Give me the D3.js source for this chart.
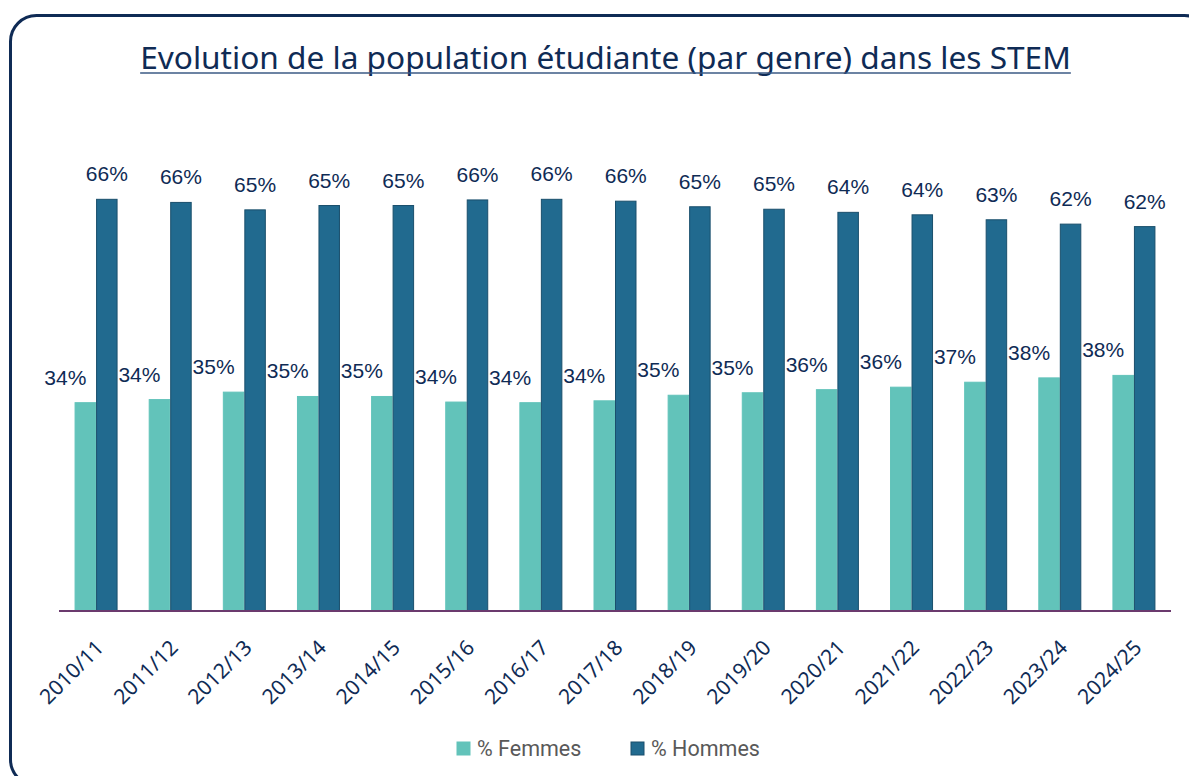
<!DOCTYPE html>
<html>
<head>
<meta charset="utf-8">
<script src="https://cdn.jsdelivr.net/npm/d3@7"></script>
<style>
  body { margin: 0; background: #fff; }
  svg { display: block; }
</style>
</head>
<body>
<div id="chart"></div>
<script>
// data
let years = ['2010/11','2011/12','2012/13','2013/14','2014/15','2015/16','2016/17','2017/18',
             '2018/19','2019/20','2020/21','2021/22','2022/23','2023/24','2024/25']
let femmes = [33.6, 34.1, 35.3, 34.6, 34.6, 33.7, 33.6, 33.9, 34.8, 35.2, 35.7, 36.1, 36.9, 37.6, 38.0]
let hommes = [66.4, 65.9, 64.7, 65.4, 65.4, 66.3, 66.4, 66.1, 65.2, 64.8, 64.3, 63.9, 63.1, 62.4, 62.0]
let seriesNames = ['% Femmes', '% Hommes']

let width = 1189,
    height = 776,
    navy = '#0f2b55',
    teal = '#62c3ba',
    blue = '#216a8f'

let svg = d3.select('#chart').append('svg')
    .attr('width', width)
    .attr('height', height)

// frame with rounded corners (runs off the right / bottom edge)
svg.append('rect')
    .attr('x', 10.5).attr('y', 15.5)
    .attr('width', 1200).attr('height', 770)
    .attr('rx', 26)
    .attr('fill', 'none')
    .attr('stroke', navy)
    .attr('stroke-width', 3)

// title, underlined
let title = svg.append('text')
    .attr('x', 605.5).attr('y', 69)
    .attr('text-anchor', 'middle')
    .style('font-family', 'Noto Sans, sans-serif')
    .style('font-size', '30px')
    .attr('fill', navy)
    .text('Evolution de la population étudiante (par genre) dans les STEM')
// fit to the width seen in the reference
let tl = title.node().getComputedTextLength()
title.style('font-size', (30 * 931 / tl) + 'px')
tl = title.node().getComputedTextLength()
svg.append('line')
    .attr('x1', 605.5 - tl / 2).attr('x2', 605.5 + tl / 2)
    .attr('y1', 73).attr('y2', 73)
    .attr('stroke', '#3b5a84')
    .attr('stroke-width', 1.5)

// scales
let x = d3.scaleBand()
    .domain(years)
    .range([59, 1171])
    .paddingInner(0.42)
    .paddingOuter(0.21)

let xs = d3.scaleBand()
    .domain(seriesNames)
    .range([0, x.bandwidth()])

let y = d3.scaleLinear()
    .domain([0, 70])
    .range([611, 177])

let rows = years.map(function(yr, i){
    return { year: yr, values: [
        { key: seriesNames[0], v: femmes[i] },
        { key: seriesNames[1], v: hommes[i] }
    ]}
})

let color = d3.scaleOrdinal().domain(seriesNames).range([teal, blue])
let edge = d3.scaleOrdinal().domain(seriesNames).range([teal, '#1a4f6c'])

let groups = svg.selectAll('.grp')
    .data(rows)
    .enter().append('g')
    .attr('class', 'grp')
    .attr('transform', function(d){ return 'translate(' + x(d.year) + ',0)' })

groups.selectAll('rect')
    .data(function(d){ return d.values })
    .enter().append('rect')
    .attr('x', function(d){ return xs(d.key) + 0.5 })
    .attr('width', xs.bandwidth() - 1)
    .attr('y', function(d){ return y(d.v) })
    .attr('height', function(d){ return y(0) - y(d.v) })
    .attr('fill', function(d){ return color(d.key) })
    .attr('stroke', function(d){ return edge(d.key) })
    .attr('stroke-width', 1)

// value labels (femmes label sits left of its bar)
groups.selectAll('.lbl')
    .data(function(d){ return d.values })
    .enter().append('text')
    .attr('class', 'lbl')
    .attr('x', function(d, i){ return xs(d.key) + xs.bandwidth() / 2 + (i == 0 ? -20 : 0) })
    .attr('y', function(d){ return y(d.v) - 18 })
    .attr('text-anchor', 'middle')
    .style('font-family', 'Liberation Sans, Arial, sans-serif')
    .style('font-size', '21px')
    .attr('fill', navy)
    .text(function(d){ return Math.round(d.v) + '%' })

// baseline
svg.append('line')
    .attr('x1', 59).attr('x2', 1171)
    .attr('y1', 611).attr('y2', 611)
    .attr('stroke', '#6b3a6e')
    .attr('stroke-width', 2)

// x axis labels, rotated
let xAxis = svg.append('g')
    .attr('transform', 'translate(0,611)')
    .call(d3.axisBottom(x).tickSize(0).tickPadding(0))
xAxis.select('.domain').remove()
xAxis.selectAll('text')
    .attr('y', 0).attr('dy', 0)
    .attr('text-anchor', 'end')
    .attr('transform', 'translate(9,38) rotate(-45)')
    .style('font-family', 'Noto Sans, sans-serif')
    .style('font-size', '21px')
    .attr('fill', navy)

// legend
let legend = svg.append('g')
let legendX = [457, 631]
seriesNames.forEach(function(name, i){
    legend.append('rect')
        .attr('x', legendX[i]).attr('y', 742)
        .attr('width', 13).attr('height', 13)
        .attr('fill', color(name))
        .attr('stroke', edge(name))
    legend.append('text')
        .attr('x', legendX[i] + 20).attr('y', 755.5)
        .style('font-family', 'Roboto, sans-serif')
        .style('font-size', '21.5px')
        .attr('fill', '#595959')
        .text(name)
})
</script>
</body>
</html>
